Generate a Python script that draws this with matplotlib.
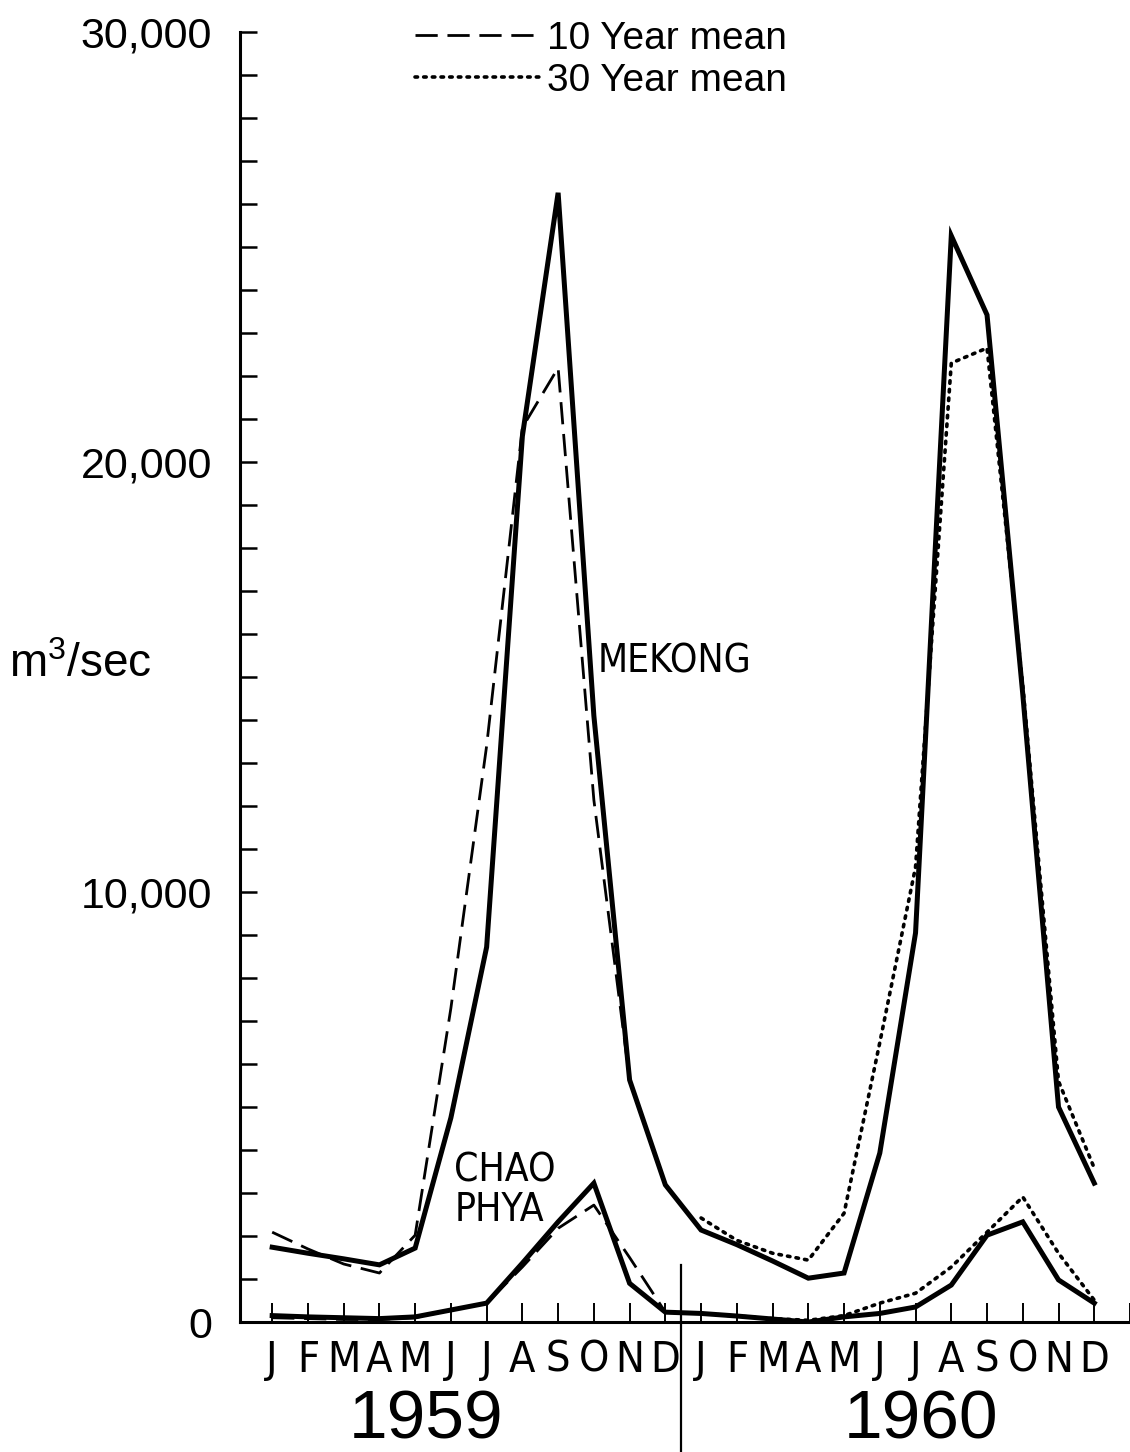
import matplotlib
matplotlib.use('Agg')
import matplotlib.pyplot as plt
from matplotlib import font_manager
import numpy as np

# month labels for the two years shown
months = ['J', 'F', 'M', 'A', 'M', 'J', 'J', 'A', 'S', 'O', 'N', 'D'] * 2
years = ['1959', '1960']

# monthly discharge, m3/sec
mekong = [1740, 1600, 1470, 1330, 1720, 4750, 8720, 20600, 26260, 14100, 5630, 3190,
          2140, 1800, 1420, 1020, 1140, 3930, 9050, 25260, 23420, 14600, 5000, 3230]
mekong_10yr = [2090, 1700, 1350, 1140, 2020, 7300, 13400, 20800, 22190, 12140, 5630, 3190]
mekong_30yr = [2420, 1900, 1600, 1440, 2530, 6500, 10580, 22300, 22650, 14800, 5600, 3580]

chao = [150, 120, 100, 80, 120, 280, 440, 1370, 2330, 3230, 900, 230,
        200, 140, 70, 0, 120, 200, 350, 860, 2020, 2330, 980, 440]
chao_10yr = [100, 80, 60, 60, 100, 280, 440, 1280, 2180, 2720, 1500, 230]
chao_30yr = [200, 140, 80, 40, 150, 440, 670, 1280, 2090, 2910, 1600, 510]

# the lettering in the original is narrow; use a condensed face when one is installed
fl = font_manager.fontManager.ttflist
if any(f.name == 'Liberation Sans Narrow' for f in fl):
    narrow = dict(family='Liberation Sans Narrow')
    mon_size, lab_size = 33, 30
elif any(f.name == 'DejaVu Sans' and f.stretch == 'condensed' for f in fl):
    narrow = dict(family='DejaVu Sans', stretch='condensed')
    mon_size, lab_size = 31, 28
else:
    narrow = dict(family='Liberation Sans')
    mon_size, lab_size = 29, 26

plt.rcParams['font.family'] = ['Liberation Sans', 'DejaVu Sans']
plt.rcParams['mathtext.default'] = 'regular'

fig = plt.figure(figsize=(11.30, 14.52), dpi=100)
ax = fig.add_axes([0.2124, 0.0895, 0.7876, 0.8885])

x_all = np.arange(24)
x59 = np.arange(12)
x60 = np.arange(12, 24)

solid = dict(color='black', lw=3.6, solid_joinstyle='miter')
dashed = dict(color='black', lw=2.0, dashes=(8, 3.5))
dotted = dict(color='black', lw=2.6, dashes=(0.7, 1.7), dash_capstyle='round')

ax.plot(x_all, mekong, **solid)
ax.plot(x_all, chao, **solid)
ax.plot(x59, mekong_10yr, label='10 Year mean', **dashed)
ax.plot(x59, chao_10yr, **dashed)
ax.plot(x60, mekong_30yr, label='30 Year mean', **dotted)
ax.plot(x60, chao_30yr, **dotted)

ax.set_xlim(-0.9, 24)
ax.set_ylim(0, 30000)

for s in ['top', 'right']:
    ax.spines[s].set_visible(False)
for s in ['left', 'bottom']:
    ax.spines[s].set_linewidth(2.2)

ax.set_yticks([0, 10000, 20000, 30000])
ax.set_yticklabels(['0', '10,000', '20,000', '30,000'], fontsize=31)
ax.set_yticks(np.arange(0, 30001, 1000), minor=True)
ax.tick_params(axis='y', which='both', direction='in', length=12, width=1.8, pad=20)

ax.set_xticks(np.arange(25))
ax.set_xticklabels(months + [''], fontsize=mon_size, **narrow)
ax.tick_params(axis='x', direction='in', length=14, width=1.4, pad=12)

# year divider running below the axis
ax.axvline(11.45, ymin=-0.101, ymax=1326 / 30000, color='black', lw=1.6, clip_on=False)

trans = ax.get_xaxis_transform()
ax.text(4.3, -0.076, years[0], transform=trans, ha='center', va='center', fontsize=50)
ax.text(18.15, -0.076, years[1], transform=trans, ha='center', va='center', fontsize=50)

ax.text(9.1, 15350, 'MEKONG', fontsize=lab_size, ha='left', va='center', **narrow)
ax.text(5.1, 3070, 'CHAO\nPHYA', fontsize=lab_size, ha='left', va='center',
        linespacing=1.05, **narrow)

fig.text(0.071, 0.542, 'm$^3$/sec', fontsize=33, ha='center', va='center')

ax.legend(loc='upper left', bbox_to_anchor=(415 / 1130, 1 - 21 / 1452),
          bbox_transform=fig.transFigure, frameon=False, fontsize=28,
          handlelength=3.2, handletextpad=0.2, labelspacing=0.15,
          borderpad=0, borderaxespad=0)

fig.savefig('out.png', dpi=100, facecolor='white')
